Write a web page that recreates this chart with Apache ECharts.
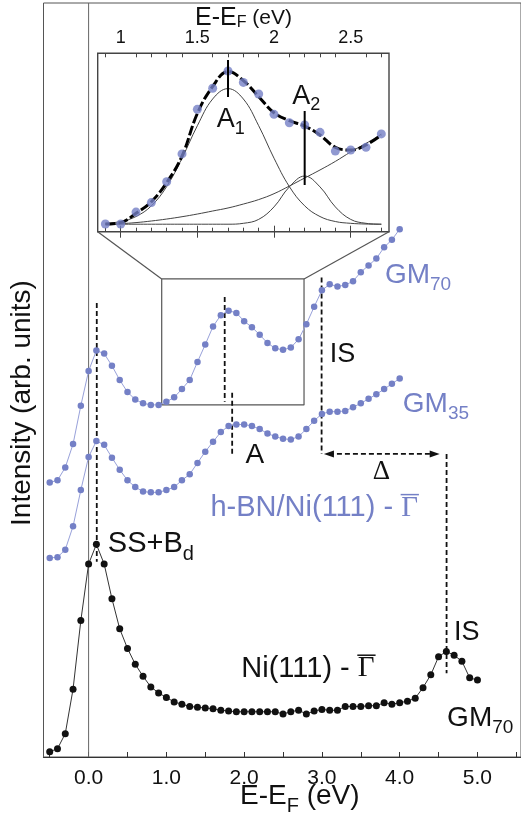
<!DOCTYPE html>
<html>
<head>
<meta charset="utf-8">
<title>2PPE spectra h-BN/Ni(111)</title>
<script src="https://cdn.jsdelivr.net/npm/echarts@6.0.0/dist/echarts.min.js"></script>
<style>
  html, body { margin: 0; padding: 0; background: #ffffff; }
  #chart { width: 521px; height: 818px; }
</style>
</head>
<body>
<div id="chart"></div>
<script>
// Energy grids (eV, relative to the Fermi level)
const energyHBN = [-0.5,-0.4,-0.3,-0.2,-0.1,0.0,0.1,0.2,0.3,0.4,0.5,0.6,0.7,0.8,0.9,1.0,1.1,1.2,1.3,1.4,1.5,1.6,1.7,1.8,1.9,2.0,2.1,2.2,2.3,2.4,2.5,2.6,2.7,2.8,2.9,3.0,3.1,3.2,3.3,3.4,3.5,3.6,3.7,3.8,3.9,4.0];
const energyNi = [-0.5,-0.4,-0.3,-0.2,-0.1,0.0,0.1,0.2,0.3,0.4,0.5,0.6,0.7,0.8,0.9,1.0,1.1,1.2,1.3,1.4,1.5,1.6,1.7,1.8,1.9,2.0,2.1,2.2,2.3,2.4,2.5,2.6,2.7,2.8,2.9,3.0,3.1,3.2,3.3,3.4,3.5,3.6,3.7,3.8,3.9,4.0,4.1,4.2,4.3,4.4,4.5,4.6,4.7,4.8,4.9,5.0];

// Intensities (arb. units, vertically offset spectra)
const gm70 = [36.4,36.7,38.4,41.5,46.6,51.2,53.9,53.5,51.9,50.0,48.4,47.4,46.9,46.7,46.7,47.1,47.7,48.8,50.0,52.4,54.7,57.1,58.6,59.2,58.9,57.8,57.0,56.0,54.9,54.2,54.0,54.3,55.4,57.4,59.7,61.9,62.7,62.4,62.6,63.1,64.3,65.2,66.1,67.6,68.6,70.0];
const gm35 = [26.4,26.5,27.5,30.6,35.4,39.8,41.9,41.4,39.7,38.1,36.7,35.8,35.2,35.1,35.1,35.4,35.8,36.7,37.5,39.0,40.5,41.8,43.1,43.9,44.1,44.1,43.9,43.5,42.9,42.5,42.2,42.1,42.5,43.5,44.6,45.5,45.8,45.8,45.9,46.4,46.9,47.5,48.1,48.8,49.5,50.2];
const niClean = [0.7,1.1,3.1,9.0,18.1,25.6,28.2,25.6,21.0,17.0,14.4,12.3,10.7,9.3,8.5,7.9,7.3,7.0,6.7,6.6,6.5,6.4,6.2,6.1,6.0,6.0,6.0,6.0,6.0,6.0,5.7,6.0,6.2,5.7,6.1,6.3,6.2,6.2,6.7,6.7,6.7,6.8,6.8,7.2,7.0,7.2,7.4,7.8,9.2,10.9,13.3,14.0,13.5,12.7,10.5,10.2];

// Inset: A feature of GM70 with its two-peak decomposition
const insetEnergy = [0.9,1.0,1.1,1.2,1.3,1.4,1.5,1.6,1.7,1.8,1.9,2.0,2.1,2.2,2.3,2.4,2.5,2.6,2.7];
const insetData = [4.3,4.3,11.0,16.3,28.0,43.6,68.6,80.4,90.1,83.7,77.2,65.8,61.1,59.8,55.7,45.2,45.8,47.3,54.8];
const insetFit = [4.3,5.1,10.3,16.8,27.5,42.4,66.3,81.4,89.8,84.7,75.7,66.7,62.2,59.2,54.2,47.3,45.8,48.6,54.2];
const peakA1 = [4.7,5.7,8.5,14.5,25.3,41.2,59.4,74.4,80.2,74.4,59.4,41.2,25.3,14.5,8.5,5.7,4.7,4.3,4.2];
const peakA2 = [4.2,4.2,4.2,4.2,4.2,4.2,4.2,4.2,4.2,4.7,6.9,13.9,25.1,31.2,25.1,13.9,6.9,4.7,4.2];
const insetBackground = [4.1,4.5,5.1,6.0,7.1,8.4,9.9,11.6,13.3,15.5,18.0,21.3,25.6,30.1,34.6,39.4,44.7,49.5,54.6];

// Tick positions and labels
const mainTicks = [-0.5,0,0.5,1,1.5,2,2.5,3,3.5,4,4.5,5,5.5];
const mainTickLabels = [0,1,2,3,4,5];
const insetTickLabels = [1,1.5,2,2.5];
const insetMinorTicks = [0.9,1.1,1.2,1.3,1.4,1.6,1.7,1.8,1.9,2.1,2.2,2.3,2.4,2.6,2.7];

const BLUE = '#7480c6';
const BLUE_LINE = '#98a1da';
const INK = '#111111';
const SANS = '"Liberation Sans", Arial, sans-serif';
const SERIF = '"Liberation Serif", "Times New Roman", serif';

const pairs = (xs, ys) => xs.map((x, i) => [x, ys[i]]);

function guide(name, pts, style, inset) {
  return {
    type: 'line', name, silent: true, symbol: 'none', z: 3,
    xAxisIndex: inset ? 1 : 0, yAxisIndex: inset ? 1 : 0,
    data: pts, lineStyle: style
  };
}
const dashed = { color: INK, width: 1.8, type: [5, 3] };

const hiddenY = (grid) => ({
  type: 'value', gridIndex: grid, min: 0, max: 100,
  axisLine: { show: false }, axisTick: { show: false },
  axisLabel: { show: false }, splitLine: { show: false }
});

function insetAxis(position, values, len, labels) {
  return {
    type: 'value', gridIndex: 1, position, min: 0.85, max: 2.75,
    axisLine: { show: !!labels, lineStyle: { color: '#444', width: 1.2 } },
    axisTick: { show: true, inside: true, length: len, customValues: values,
                lineStyle: { color: '#444', width: 1 } },
    axisLabel: labels
      ? { show: true, customValues: values, fontSize: 18, fontFamily: SANS, color: INK,
          margin: 6, formatter: (v) => String(v) }
      : { show: false },
    splitLine: { show: false }
  };
}

const option = {
  animation: false,
  backgroundColor: '#ffffff',
  grid: [
    { left: 43.5, top: 3, width: 480.6, height: 754, show: true,
      borderColor: '#555', borderWidth: 1, backgroundColor: 'transparent' },
    { left: 97.7, top: 53.3, width: 291.3, height: 178.4, show: true,
      borderColor: '#444', borderWidth: 1.4, backgroundColor: '#ffffff' }
  ],
  xAxis: [
    {
      type: 'value', gridIndex: 0, position: 'bottom', min: -0.58, max: 5.56,
      axisLine: { show: true, lineStyle: { color: '#333', width: 1.2 } },
      axisTick: { show: true, inside: true, length: 5, customValues: mainTicks,
                  lineStyle: { color: '#333' } },
      axisLabel: { show: true, customValues: mainTickLabels, fontSize: 21, fontFamily: SANS,
                   color: INK, margin: 11, formatter: (v) => v.toFixed(1) },
      splitLine: { show: false }
    },
    insetAxis('top', insetTickLabels, 6, true),
    insetAxis('top', insetMinorTicks, 4, false),
    insetAxis('bottom', insetTickLabels, 6, false),
    insetAxis('bottom', insetMinorTicks, 4, false)
  ],
  yAxis: [hiddenY(0), hiddenY(1)],
  series: [
    // Fermi level
    guide('EF', [[0, 0], [0, 100]], { color: '#666', width: 1 }),
    // Zoom window and guide lines
    guide('window', [[0.94, 46.7], [2.77, 46.7], [2.77, 63.4], [0.94, 63.4], [0.94, 46.7]],
          { color: '#555', width: 1.2 }),
    guide('SS', [[0.105, 60.2], [0.105, 25.9]], dashed),
    guide('A70', [[1.75, 61.0], [1.75, 47.1]], dashed),
    guide('A35', [[1.846, 48.3], [1.846, 39.9]], dashed),
    guide('IS-hBN', [[2.996, 63.6], [2.996, 40.2]], dashed),
    guide('IS-Ni', [[4.603, 40.2], [4.603, 11.1]], dashed),
    {
      type: 'line', name: 'Delta', silent: true, z: 3, xAxisIndex: 0, yAxisIndex: 0,
      data: [
        { value: [3.09, 40.2], symbol: 'triangle', symbolRotate: 90 },
        { value: [4.45, 40.2], symbol: 'triangle', symbolRotate: -90 }
      ],
      symbolSize: [7, 10], itemStyle: { color: INK },
      lineStyle: dashed
    },
    // Spectra
    {
      type: 'line', name: 'Ni(111)', xAxisIndex: 0, yAxisIndex: 0, z: 4,
      data: pairs(energyNi, niClean), symbol: 'circle', symbolSize: 7,
      itemStyle: { color: INK }, lineStyle: { color: '#333', width: 1 }
    },
    {
      type: 'line', name: 'GM35', xAxisIndex: 0, yAxisIndex: 0, z: 4,
      data: pairs(energyHBN, gm35), symbol: 'circle', symbolSize: 6.5,
      itemStyle: { color: BLUE }, lineStyle: { color: BLUE_LINE, width: 1 }
    },
    {
      type: 'line', name: 'GM70', xAxisIndex: 0, yAxisIndex: 0, z: 4,
      data: pairs(energyHBN, gm70), symbol: 'circle', symbolSize: 6.5,
      itemStyle: { color: BLUE }, lineStyle: { color: BLUE_LINE, width: 1 }
    },
    // Inset
    {
      type: 'line', name: 'background', xAxisIndex: 1, yAxisIndex: 1, z: 6,
      data: pairs(insetEnergy, insetBackground), smooth: 0.4, symbol: 'none',
      lineStyle: { color: '#444', width: 1 }
    },
    {
      type: 'line', name: 'A1', xAxisIndex: 1, yAxisIndex: 1, z: 6,
      data: pairs(insetEnergy, peakA1), smooth: 0.4, symbol: 'none',
      lineStyle: { color: '#444', width: 1 }
    },
    {
      type: 'line', name: 'A2', xAxisIndex: 1, yAxisIndex: 1, z: 6,
      data: pairs(insetEnergy, peakA2), smooth: 0.4, symbol: 'none',
      lineStyle: { color: '#444', width: 1 }
    },
    {
      type: 'line', name: 'fit', xAxisIndex: 1, yAxisIndex: 1, z: 7,
      data: pairs(insetEnergy, insetFit), smooth: 0.4, symbol: 'none',
      lineStyle: { color: '#000', width: 3, type: [10, 3] }
    },
    {
      type: 'scatter', name: 'GM70 data', xAxisIndex: 1, yAxisIndex: 1, z: 8,
      data: pairs(insetEnergy, insetData), symbolSize: 9,
      itemStyle: { color: BLUE }
    },
    Object.assign(guide('A1 mark', [[1.7, 96.2], [1.7, 75.5]], { color: '#000', width: 2 }, true), { z: 9 }),
    Object.assign(guide('A2 mark', [[2.2, 67.7], [2.2, 26.2]], { color: '#000', width: 2 }, true), { z: 9 })
  ]
};

const chart = echarts.init(document.getElementById('chart'), null, { renderer: 'canvas' });
chart.setOption(option);

// ---- annotations -------------------------------------------------------
const measureCtx = document.createElement('canvas').getContext('2d');
const fontOf = (size, family) => size + 'px ' + family;
function textWidth(str, font) { measureCtx.font = font; return measureCtx.measureText(str).width; }
const toPx = (grid, p) => chart.convertToPixel({ gridIndex: grid }, p);

// Text made of runs: plain, subscript (dy) or overlined serif symbol
function runs(pos, parts, color, align) {
  const widths = parts.map(p => textWidth(p.t, fontOf(p.size, p.serif ? SERIF : SANS)));
  const total = widths.reduce((a, b) => a + b, 0);
  let x = pos[0] - (align === 'center' ? total / 2 : 0);
  const out = [];
  parts.forEach((p, i) => {
    const y = pos[1] + (p.dy || 0);
    out.push({
      type: 'text', x, y, z: 20, silent: true,
      style: { text: p.t, fill: color, fontSize: p.size, fontFamily: p.serif ? SERIF : SANS,
               align: 'left', verticalAlign: 'middle' }
    });
    if (p.over) {
      const yl = y - p.size * 0.33 - 4;
      out.push({
        type: 'line', z: 20, silent: true,
        shape: { x1: x - 0.5, y1: yl, x2: x + widths[i] + 1, y2: yl },
        style: { stroke: color, lineWidth: 1.5 }
      });
    }
    x += widths[i];
  });
  return out;
}
const main = (p) => toPx(0, p);
const ins = (p) => toPx(1, p);
const sub = (t, size, dy) => ({ t, size, dy });

const c0 = ins([0.85, 0]), c1 = ins([2.75, 0]);
const w0 = main([0.94, 63.4]), w1 = main([2.77, 63.4]);

const graphic = [
  { type: 'line', z: 2, silent: true, shape: { x1: c0[0], y1: c0[1], x2: w0[0], y2: w0[1] },
    style: { stroke: '#555', lineWidth: 1.2 } },
  { type: 'line', z: 2, silent: true, shape: { x1: c1[0], y1: c1[1], x2: w1[0], y2: w1[1] },
    style: { stroke: '#555', lineWidth: 1.2 } },

  ...runs(main([3.81, 63.9]), [{ t: 'GM', size: 28 }, sub('70', 19, 10)], BLUE),
  ...runs(main([4.04, 46.8]), [{ t: 'GM', size: 28 }, sub('35', 19, 10)], BLUE),
  ...runs(main([3.10, 53.4]), [{ t: 'IS', size: 27 }], INK),
  ...runs(main([2.137, 40.0]), [{ t: 'A', size: 28 }], INK, 'center'),
  ...runs(main([3.765, 37.8]), [{ t: '\u0394', size: 27, serif: true }], INK, 'center'),
  ...runs(main([0.247, 28.2]), [{ t: 'SS+B', size: 29 }, sub('d', 20, 10)], INK),
  ...runs(main([4.70, 16.5]), [{ t: 'IS', size: 27 }], INK),
  ...runs(main([4.61, 5.2]), [{ t: 'GM', size: 28 }, sub('70', 19, 10)], INK),
  ...runs(main([1.567, 33.0]),
          [{ t: 'h-BN/Ni(111) - ', size: 29 }, { t: '\u0393', size: 29, serif: true, over: true }], BLUE),
  ...runs(main([1.963, 11.7]),
          [{ t: 'Ni(111) - ', size: 29 }, { t: '\u0393', size: 29, serif: true, over: true }], INK),

  ...runs(ins([1.626, 62.6]), [{ t: 'A', size: 27 }, sub('1', 18, 9)], INK),
  ...runs(ins([2.119, 76.0]), [{ t: 'A', size: 27 }, sub('2', 18, 9)], INK),

  // axis titles
  ...runs([195, 18], [{ t: 'E-E', size: 25 }, sub('F', 16, 5), { t: ' (eV)', size: 21 }], INK),
  ...runs([240, 796], [{ t: 'E-E', size: 28 }, sub('F', 20, 10), { t: ' (eV)', size: 28 }], INK),
  {
    type: 'text', x: 22, y: 403, z: 20, silent: true, rotation: Math.PI / 2,
    style: { text: 'Intensity (arb. units)', align: 'center', verticalAlign: 'middle',
             fontSize: 28, fontFamily: SANS, fill: INK }
  }
];

chart.setOption({ graphic });
</script>
</body>
</html>
